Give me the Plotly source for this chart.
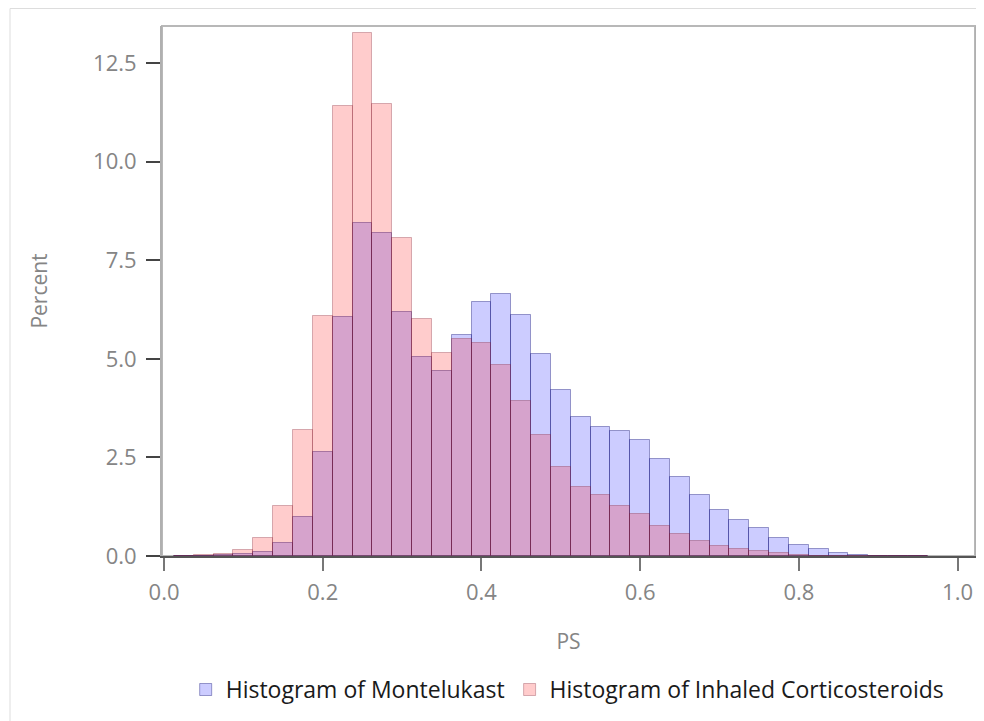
import plotly.graph_objects as go

# bin centres (PS), bin width 0.025
ps_bins = [0.025, 0.05, 0.075, 0.1, 0.125, 0.15, 0.175, 0.2, 0.225, 0.25, 0.275, 0.3,
           0.325, 0.35, 0.375, 0.4, 0.425, 0.45, 0.475, 0.5, 0.525, 0.55, 0.575, 0.6,
           0.625, 0.65, 0.675, 0.7, 0.725, 0.75, 0.775, 0.8, 0.825, 0.85, 0.875, 0.9,
           0.925, 0.95]

montelukast = [0.0, 0.01, 0.02, 0.04, 0.11, 0.32, 0.98, 2.65, 6.07, 8.45, 8.18, 6.20,
               5.04, 4.70, 5.61, 6.43, 6.65, 6.10, 5.12, 4.22, 3.52, 3.27, 3.18, 2.94,
               2.46, 2.00, 1.55, 1.17, 0.91, 0.70, 0.46, 0.28, 0.17, 0.07, 0.03, 0.012,
               0.005, 0.003]

inhaled_cs = [0.005, 0.03, 0.05, 0.16, 0.45, 1.28, 3.20, 6.09, 11.42, 13.27, 11.46, 8.07,
              6.02, 5.14, 5.50, 5.40, 4.84, 3.93, 3.07, 2.26, 1.74, 1.55, 1.27, 1.07,
              0.77, 0.56, 0.38, 0.26, 0.17, 0.12, 0.07, 0.03, 0.01, 0.005, 0.0, 0.0,
              0.0, 0.0]

x_ticks = [0.0, 0.2, 0.4, 0.6, 0.8, 1.0]
y_ticks = [0.0, 2.5, 5.0, 7.5, 10.0, 12.5]

bin_width = 0.025

fig = go.Figure()
fig.add_trace(go.Bar(
    x=ps_bins, y=montelukast, width=[bin_width] * len(ps_bins),
    name="Histogram of Montelukast",
    marker=dict(color="rgba(0,0,255,0.2)",
                line=dict(color="rgba(20,20,120,0.4)", width=1)),
))
fig.add_trace(go.Bar(
    x=ps_bins, y=inhaled_cs, width=[bin_width] * len(ps_bins),
    name="Histogram of Inhaled Corticosteroids",
    marker=dict(color="rgba(255,0,0,0.2)",
                line=dict(color="rgba(120,20,40,0.3)", width=1)),
))

tick_font = dict(family="Open Sans, sans-serif", size=22, color="#858585")
title_font = dict(family="Open Sans, sans-serif", size=21, color="#858585")

# the page body adds an 8px offset, so the figure is sized to the visible area
W, H = 976, 713
ml, mr, mt, mb = 154, 9, 18, 164.5
pw, ph = W - ml - mr, H - mt - mb

fig.update_layout(
    width=W, height=H,
    barmode="overlay",
    bargap=0,
    paper_bgcolor="white",
    plot_bgcolor="white",
    margin=dict(l=ml, r=mr, t=mt, b=mb, autoexpand=False),
    showlegend=True,
    legend=dict(orientation="h", x=0.499, xanchor="center", y=-0.252, yanchor="middle",
                font=dict(family="Open Sans, sans-serif", size=23, color="#1a1a1a"),
                traceorder="normal", itemwidth=30),
    xaxis=dict(
        range=[-0.0026, 1.022], tickvals=x_ticks, ticktext=[f"{v:.1f}" for v in x_ticks],
        ticks="outside", ticklen=13, tickcolor="#777777", tickwidth=1.5,
        ticklabelstandoff=3,
        showline=True, linecolor="#555555", linewidth=2, mirror=False,
        showgrid=False, zeroline=False, tickfont=tick_font,
        title=dict(text="PS", font=title_font, standoff=29),
    ),
    yaxis=dict(
        range=[0, 13.44], tickvals=y_ticks, ticktext=[f"{v:.1f}" for v in y_ticks],
        ticks="outside", ticklen=14, tickcolor="#444444", tickwidth=1.5,
        ticklabelstandoff=5,
        showline=True, linecolor="#b0b0b0", linewidth=2, mirror=True,
        showgrid=False, zeroline=False, tickfont=tick_font,
        title=dict(text="Percent", font=title_font, standoff=40),
    ),
)
# top/right frame of the plot area
fig.add_shape(type="rect", xref="paper", yref="paper", x0=0, x1=1, y0=0, y1=1,
              line=dict(color="#b8b8b8", width=2), layer="below")
# outer container border
fig.add_shape(type="rect", xref="paper", yref="paper",
              x0=(2 - ml) / pw, x1=(W + 20 - ml) / pw,
              y0=(mt + ph - (H + 20)) / ph, y1=(mt + ph - 0.5) / ph,
              line=dict(color="#dddddd", width=1), layer="below")

fig.write_html("out.html")
